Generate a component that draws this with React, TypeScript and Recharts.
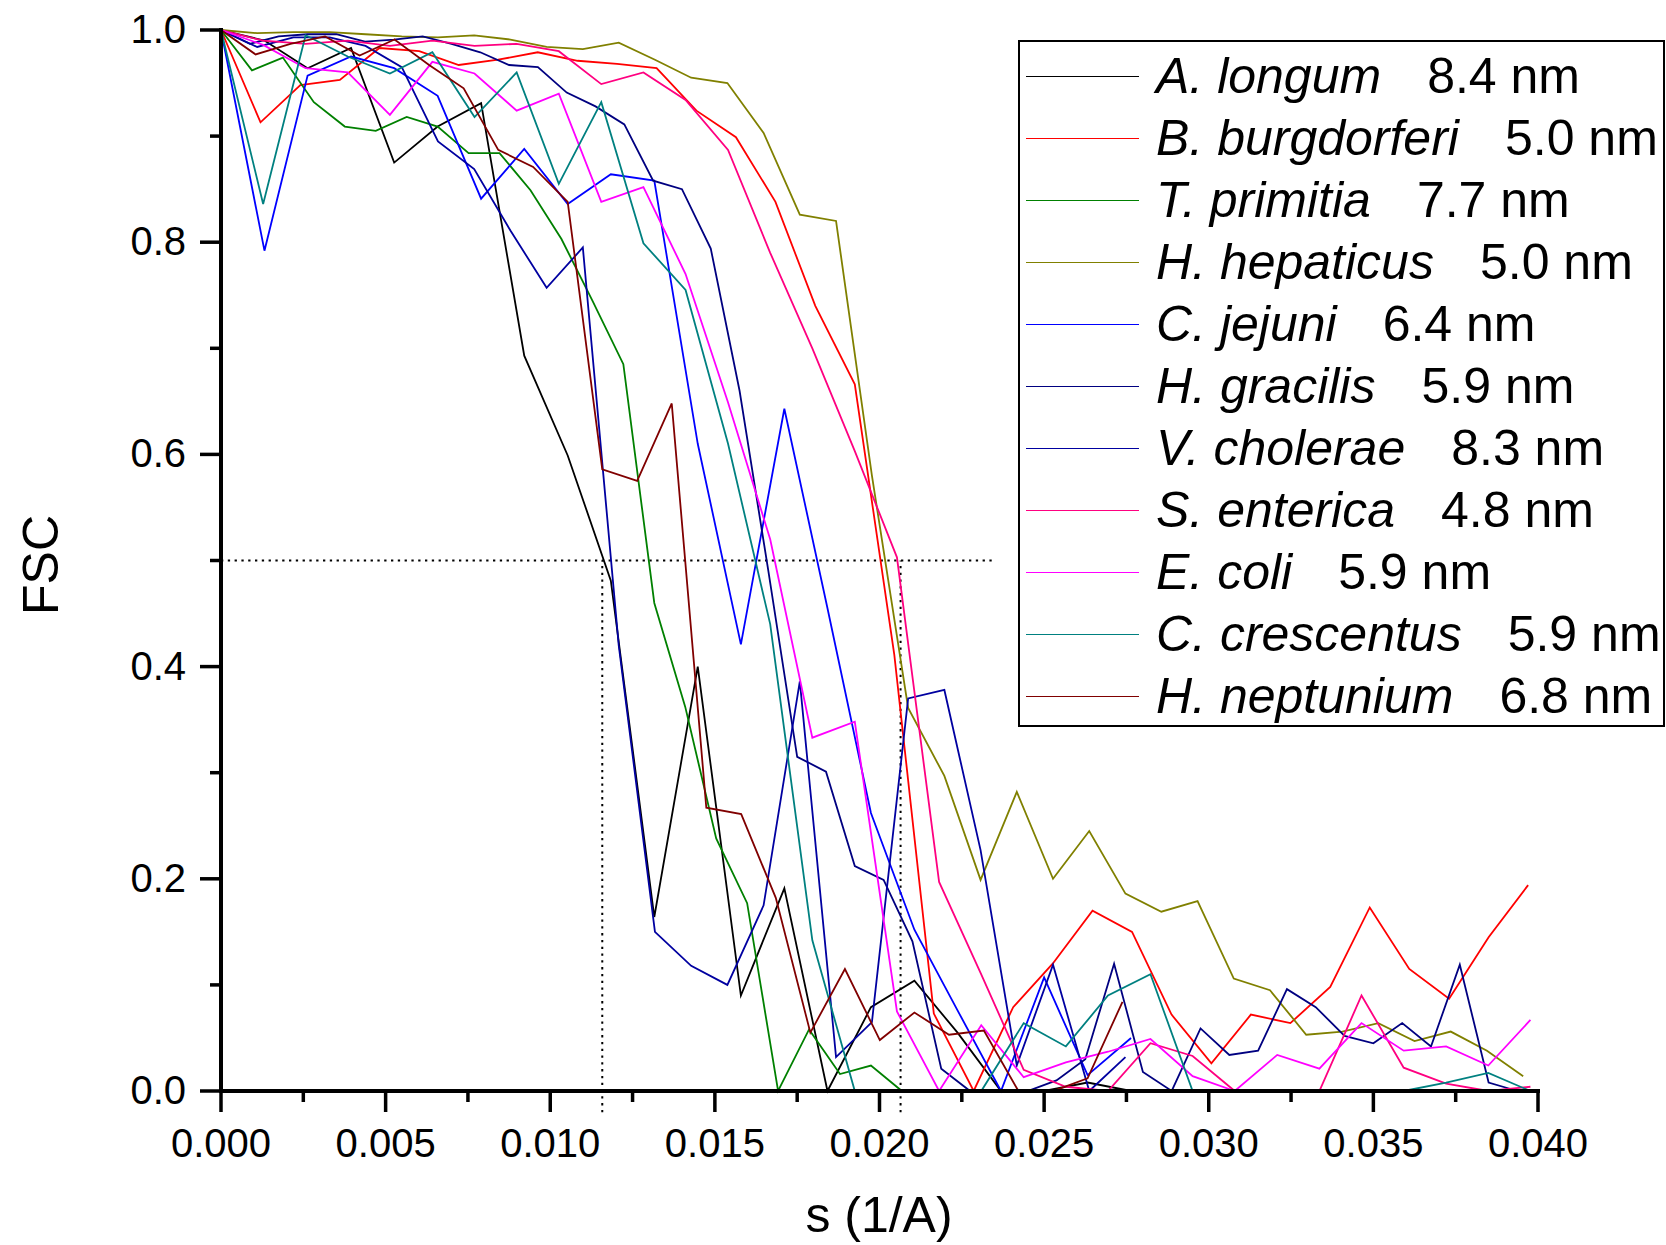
import { LineChart, Line, XAxis, YAxis, ReferenceLine, Legend } from "recharts";

type Pt = [number, number];

// FSC curves, [s (1/A), FSC]
const aLongum: Pt[] = [
  [0, 1], [0.00132, 0.99], [0.00263, 0.964], [0.00395, 0.983], [0.00526, 0.875], [0.00658, 0.909],
  [0.0079, 0.931], [0.00921, 0.693], [0.01053, 0.599], [0.01184, 0.481], [0.01316, 0.164], [0.01448, 0.4],
  [0.01579, 0.09], [0.01711, 0.191], [0.01842, 0], [0.01974, 0.079], [0.02106, 0.104], [0.02237, 0.055],
  [0.02369, 0], [0.025, 0], [0.02632, 0.008], [0.02764, 0], [0.02895, 0], [0.03027, 0], [0.03158, 0],
  [0.0329, 0], [0.03422, 0], [0.03553, 0], [0.03685, 0], [0.03816, 0], [0.03948, 0],
];

const bBurgdorferi: Pt[] = [
  [0, 1], [0.0012, 0.913], [0.00241, 0.948], [0.00361, 0.953], [0.00481, 0.983], [0.00602, 0.98],
  [0.00722, 0.967], [0.00842, 0.972], [0.00962, 0.979], [0.01083, 0.971], [0.01203, 0.968], [0.01323, 0.964],
  [0.01444, 0.924], [0.01564, 0.899], [0.01684, 0.838], [0.01805, 0.74], [0.01925, 0.666], [0.02045, 0.411],
  [0.02165, 0.073], [0.02286, 0], [0.02406, 0.079], [0.02526, 0.12], [0.02647, 0.17], [0.02767, 0.15],
  [0.02887, 0.072], [0.03008, 0.026], [0.03128, 0.072], [0.03248, 0.064], [0.03369, 0.098], [0.03489, 0.173],
  [0.03609, 0.115], [0.0373, 0.087], [0.0385, 0.145], [0.0397, 0.194],
];

const tPrimitia: Pt[] = [
  [0, 1], [0.00094, 0.962], [0.00188, 0.974], [0.00282, 0.932], [0.00376, 0.909], [0.0047, 0.905],
  [0.00564, 0.918], [0.00658, 0.909], [0.00752, 0.884], [0.00846, 0.884], [0.0094, 0.849], [0.01034, 0.803],
  [0.01128, 0.745], [0.01222, 0.685], [0.01316, 0.46], [0.0141, 0.362], [0.01504, 0.238], [0.01598, 0.177],
  [0.01692, 0], [0.01786, 0.058], [0.0188, 0.016], [0.01974, 0.024], [0.02068, 0], [0.02162, 0], [0.02256, 0],
  [0.0235, 0], [0.02444, 0], [0.02538, 0], [0.02632, 0], [0.02726, 0], [0.0282, 0], [0.02914, 0], [0.03008, 0],
  [0.03102, 0], [0.03196, 0], [0.0329, 0], [0.03384, 0], [0.03478, 0], [0.03572, 0], [0.03666, 0], [0.0376, 0],
  [0.03854, 0], [0.03948, 0],
];

const hHepaticus: Pt[] = [
  [0, 1], [0.0011, 0.997], [0.0022, 0.998], [0.0033, 0.998], [0.00439, 0.996], [0.00549, 0.994],
  [0.00659, 0.993], [0.00769, 0.995], [0.00879, 0.991], [0.00989, 0.984], [0.01099, 0.982], [0.01208, 0.988],
  [0.01318, 0.972], [0.01428, 0.955], [0.01538, 0.95], [0.01648, 0.903], [0.01758, 0.826], [0.01868, 0.82],
  [0.01977, 0.58], [0.02087, 0.361], [0.02197, 0.297], [0.02307, 0.199], [0.02417, 0.282], [0.02527, 0.2],
  [0.02637, 0.245], [0.02747, 0.186], [0.02856, 0.169], [0.02966, 0.179], [0.03076, 0.106], [0.03186, 0.095],
  [0.03296, 0.053], [0.03406, 0.056], [0.03515, 0.064], [0.03625, 0.047], [0.03735, 0.056], [0.03845, 0.038],
  [0.03955, 0.014],
];

const cJejuni: Pt[] = [
  [0, 1], [0.00132, 0.792], [0.00263, 0.957], [0.00395, 0.975], [0.00526, 0.964], [0.00658, 0.938],
  [0.0079, 0.841], [0.00921, 0.888], [0.01053, 0.836], [0.01184, 0.864], [0.01316, 0.858], [0.01448, 0.61],
  [0.01579, 0.421], [0.01711, 0.643], [0.01842, 0.455], [0.01974, 0.262], [0.02106, 0.152], [0.02237, 0.076],
  [0.02369, 0], [0.025, 0.107], [0.02632, 0.015], [0.02764, 0.05],
];

const hGracilis: Pt[] = [
  [0, 1], [0.000875, 0.987], [0.00175, 0.994], [0.002625, 0.996], [0.0035, 0.996], [0.004375, 0.989],
  [0.00525, 0.991], [0.006125, 0.994], [0.007, 0.987], [0.007875, 0.979], [0.00875, 0.967], [0.009625, 0.965],
  [0.0105, 0.941], [0.011375, 0.928], [0.01225, 0.911], [0.013125, 0.858], [0.014, 0.85], [0.014875, 0.794],
  [0.01575, 0.66], [0.016625, 0.49], [0.0175, 0.315], [0.018375, 0.301], [0.01925, 0.212], [0.020125, 0.199],
  [0.021, 0.141], [0.021875, 0.021], [0.02275, 0], [0.023625, 0], [0.0245, 0], [0.025375, 0.01],
  [0.02625, 0.03], [0.027125, 0.12], [0.028, 0.018], [0.028875, 0], [0.02975, 0.059], [0.030625, 0.034],
  [0.0315, 0.038], [0.032375, 0.096], [0.03325, 0.079], [0.034125, 0.052], [0.035, 0.045], [0.035875, 0.064],
  [0.03675, 0.042], [0.037625, 0.119], [0.0385, 0.008], [0.039375, 0],
];

const vCholerae: Pt[] = [
  [0, 1], [0.0011, 0.984], [0.0022, 0.993], [0.0033, 0.993], [0.00439, 0.985], [0.00549, 0.965],
  [0.00659, 0.895], [0.00769, 0.869], [0.00879, 0.811], [0.00989, 0.757], [0.01099, 0.795], [0.01208, 0.42],
  [0.01318, 0.15], [0.01428, 0.118], [0.01538, 0.1], [0.01648, 0.175], [0.01758, 0.386], [0.01868, 0.032],
  [0.01977, 0.065], [0.02087, 0.37], [0.02197, 0.378], [0.02307, 0.227], [0.02417, 0.024], [0.02527, 0.119],
  [0.02637, 0], [0.02747, 0.032],
];

const sEnterica: Pt[] = [
  [0, 1], [0.00128, 0.99], [0.00257, 0.987], [0.00385, 0.99], [0.00513, 0.985], [0.00642, 0.99],
  [0.0077, 0.985], [0.00898, 0.987], [0.01026, 0.98], [0.01155, 0.949], [0.01283, 0.96], [0.01411, 0.934],
  [0.0154, 0.887], [0.01668, 0.79], [0.01796, 0.7], [0.01925, 0.603], [0.02053, 0.503], [0.02181, 0.197],
  [0.02309, 0.11], [0.02438, 0.02], [0.02566, 0.004], [0.02694, 0], [0.02823, 0.045], [0.02951, 0.033],
  [0.03079, 0], [0.03208, 0], [0.03336, 0], [0.03464, 0.09], [0.03592, 0.022], [0.03721, 0.007],
  [0.03849, 0], [0.03977, 0.004],
];

const eColi: Pt[] = [
  [0, 1], [0.00128, 0.986], [0.00257, 0.964], [0.00385, 0.96], [0.00513, 0.92], [0.00642, 0.97],
  [0.0077, 0.959], [0.00898, 0.924], [0.01026, 0.94], [0.01155, 0.838], [0.01283, 0.852], [0.01411, 0.77],
  [0.0154, 0.649], [0.01668, 0.52], [0.01796, 0.333], [0.01925, 0.348], [0.02053, 0.075], [0.02181, 0],
  [0.02309, 0.062], [0.02438, 0.013], [0.02566, 0.027], [0.02694, 0.037], [0.02823, 0.049], [0.02951, 0.014],
  [0.03079, 0], [0.03208, 0.034], [0.03336, 0.021], [0.03464, 0.064], [0.03592, 0.038], [0.03721, 0.042],
  [0.03849, 0.024], [0.03977, 0.067],
];

const cCrescentus: Pt[] = [
  [0, 1], [0.00128, 0.836], [0.00257, 0.995], [0.00385, 0.975], [0.00513, 0.959], [0.00642, 0.979],
  [0.0077, 0.918], [0.00898, 0.96], [0.01026, 0.855], [0.01155, 0.932], [0.01283, 0.799], [0.01411, 0.755],
  [0.0154, 0.61], [0.01668, 0.44], [0.01796, 0.142], [0.01925, 0], [0.02053, 0], [0.02181, 0],
  [0.02309, 0], [0.02438, 0.064], [0.02566, 0.042], [0.02694, 0.09], [0.02823, 0.11], [0.02951, 0],
  [0.03079, 0], [0.03208, 0], [0.03336, 0], [0.03464, 0], [0.03592, 0], [0.03721, 0.008],
  [0.03849, 0.017], [0.03977, 0],
];

const hNeptunium: Pt[] = [
  [0, 1], [0.00105, 0.977], [0.00211, 0.987], [0.00316, 0.994], [0.00421, 0.976], [0.00527, 0.991],
  [0.00632, 0.967], [0.00737, 0.945], [0.00842, 0.887], [0.00948, 0.871], [0.01053, 0.838], [0.01158, 0.586],
  [0.01264, 0.575], [0.01369, 0.648], [0.01474, 0.267], [0.0158, 0.261], [0.01685, 0.182], [0.0179, 0.055],
  [0.01895, 0.115], [0.02001, 0.048], [0.02106, 0.074], [0.02211, 0.053], [0.02317, 0.057], [0.02422, 0],
  [0.02527, 0], [0.02632, 0.012], [0.02738, 0.084],
];

const names = [
  "A. longum", "B. burgdorferi", "T. primitia", "H. hepaticus", "C. jejuni", "H. gracilis",
  "V. cholerae", "S. enterica", "E. coli", "C. crescentus", "H. neptunium",
];
const resolutions = [
  "8.4 nm", "5.0 nm", "7.7 nm", "5.0 nm", "6.4 nm", "5.9 nm", "8.3 nm", "4.8 nm", "5.9 nm", "5.9 nm", "6.8 nm",
];
const curves = [
  aLongum, bBurgdorferi, tPrimitia, hHepaticus, cJejuni, hGracilis,
  vCholerae, sEnterica, eColi, cCrescentus, hNeptunium,
];
const colors = [
  "#000000", "#ff0000", "#008000", "#808000", "#0000ff", "#000080",
  "#0000a0", "#ff0080", "#ff00ff", "#008080", "#800000",
];

const xTicks = [
  0, 0.0025, 0.005, 0.0075, 0.01, 0.0125, 0.015, 0.0175, 0.02,
  0.0225, 0.025, 0.0275, 0.03, 0.0325, 0.035, 0.0375, 0.04,
];
const yTicks = [0, 0.1, 0.2, 0.3, 0.4, 0.5, 0.6, 0.7, 0.8, 0.9, 1.0];

// 0.5 threshold and where the best / worst curves cross it
const threshold = 0.5;
const thresholdEnd = 0.02353;
const crossings = [0.01158, 0.02064];

const FONT = "'Liberation Sans', Arial, sans-serif";

const series = curves.map((pts, i) => ({
  name: names[i],
  res: resolutions[i],
  color: colors[i],
  data: pts.map(([s, fsc]) => ({ s, fsc })),
}));

function XTick({ x, y, payload }: any) {
  const v = payload.value as number;
  const major = Math.round(v * 10000) % 50 === 0;
  return (
    <g>
      <line x1={x} x2={x} y1={y} y2={y + (major ? 21 : 11)} stroke="#000" strokeWidth={3.5} />
      {major && (
        <text x={x} y={y + 66} textAnchor="middle" fontSize={40} fontFamily={FONT} fill="#000">
          {v.toFixed(3)}
        </text>
      )}
    </g>
  );
}

function YTick({ x, y, payload }: any) {
  const v = payload.value as number;
  const major = Math.round(v * 10) % 2 === 0;
  return (
    <g>
      <line x1={x - (major ? 21 : 11)} x2={x} y1={y} y2={y} stroke="#000" strokeWidth={3.5} />
      {major && (
        <text x={x - 35} y={y + 13} textAnchor="end" fontSize={40} fontFamily={FONT} fill="#000">
          {v.toFixed(1)}
        </text>
      )}
    </g>
  );
}

function LegendBox() {
  return (
    <div
      style={{
        border: "2px solid #000",
        background: "#fff",
        boxSizing: "border-box",
        width: 647,
        height: 687,
        paddingTop: 3,
        fontFamily: FONT,
        textAlign: "left",
      }}
    >
      {series.map((s) => (
        <div key={s.name} style={{ display: "flex", alignItems: "center", height: 62 }}>
          <div style={{ width: 113, height: 0, borderTop: `1.6px solid ${s.color}`, marginLeft: 6 }} />
          <span style={{ marginLeft: 17, fontSize: 50, lineHeight: "62px", whiteSpace: "nowrap", color: "#000" }}>
            <span style={{ fontStyle: "italic" }}>{s.name}</span>
            <span style={{ marginLeft: 46 }}>{s.res}</span>
          </span>
        </div>
      ))}
    </div>
  );
}

export default function App() {
  return (
    <div style={{ position: "absolute", left: 0, top: 0, width: 1666, height: 1245, background: "#fff" }}>
      <LineChart width={1666} height={1245} margin={{ top: 30, right: 128, bottom: 4, left: 21 }}>
        <XAxis
          dataKey="s"
          type="number"
          domain={[0, 0.04]}
          ticks={xTicks}
          interval={0}
          height={150}
          tickSize={0}
          tickMargin={0}
          tickLine={false}
          axisLine={{ stroke: "#000", strokeWidth: 4, strokeLinecap: "square" }}
          tick={<XTick />}
          label={{
            content: () => (
              <text x={879} y={1232} textAnchor="middle" fontSize={50} fontFamily={FONT} fill="#000">
                s (1/A)
              </text>
            ),
          }}
        />
        <YAxis
          type="number"
          domain={[0, 1]}
          ticks={yTicks}
          interval={0}
          width={200}
          tickSize={0}
          tickMargin={0}
          tickLine={false}
          axisLine={{ stroke: "#000", strokeWidth: 4, strokeLinecap: "square" }}
          tick={<YTick />}
          label={{
            content: () => (
              <text
                x={58}
                y={565}
                transform="rotate(-90 58 565)"
                textAnchor="middle"
                fontSize={50}
                fontFamily={FONT}
                fill="#000"
              >
                FSC
              </text>
            ),
          }}
        />
        <ReferenceLine
          segment={[{ x: 0, y: threshold }, { x: thresholdEnd, y: threshold }]}
          stroke="#000"
          strokeWidth={2}
          strokeDasharray="2.3 4.5"
          ifOverflow="visible"
        />
        {crossings.map((c) => (
          <ReferenceLine
            key={c}
            segment={[{ x: c, y: -0.02 }, { x: c, y: threshold }]}
            stroke="#000"
            strokeWidth={2}
            strokeDasharray="2.3 4.5"
            ifOverflow="visible"
          />
        ))}
        {series.map((s) => (
          <Line
            key={s.name}
            name={s.name}
            data={s.data}
            dataKey="fsc"
            type="linear"
            stroke={s.color}
            strokeWidth={1.8}
            dot={false}
            activeDot={false}
            isAnimationActive={false}
          />
        ))}
        <Legend
          layout="vertical"
          align="center"
          verticalAlign="middle"
          wrapperStyle={{ left: 1018, top: 40, width: 647 }}
          content={() => <LegendBox />}
        />
      </LineChart>
    </div>
  );
}
